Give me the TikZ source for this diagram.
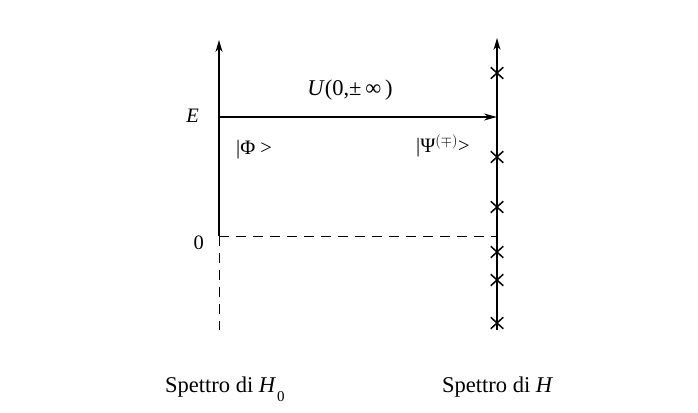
\documentclass[tikz,border=0pt]{standalone}
\usepackage{fontspec}
\setmainfont{Liberation Serif}
\usetikzlibrary{arrows.meta,shapes.misc}
\begin{document}
\begin{tikzpicture}[x=1pt,y=-1pt,
  axis/.style={line width=1.6pt},
  dashline/.style={line width=1pt,dash pattern=on 10pt off 7pt},
  lbl/.style={font=\fontsize{20.5}{24}\selectfont,inner sep=0pt},
  biglbl/.style={font=\fontsize{22.5}{26}\selectfont,inner sep=0pt},
  xmark/.style={cross out,draw,line width=1.5pt,minimum width=11pt,minimum height=10pt,inner sep=0pt}]
\fill[white] (0,0) rectangle (698,412);
\useasboundingbox (0,0) rectangle (698,412);
% left axis
\coordinate (Lt) at (219,40);
\coordinate (LE) at (219,117);
\coordinate (L0) at (219,236);
\coordinate (Lb) at (219,330);
% right axis
\coordinate (Rt) at (497,38);
\coordinate (RE) at (497,117);
\coordinate (R0) at (497,236);
\coordinate (Rb) at (497,330);
\draw[axis,-{Stealth[length=12pt,width=7pt]}] (L0) -- (Lt);
\draw[dashline] (L0) -- (Lb);
\draw[line width=1.2pt,-{Stealth[length=12pt,width=7pt]}] (Rb) -- (Rt);
\draw[line width=1.4pt,-{Stealth[length=13pt,width=7pt]}] (LE) -- (RE);
\draw[dashline] (L0) -- (R0);
% crosses
\foreach \y [count=\i] in {73,157,207,252,280,323}
  \node[xmark] (x\i) at (497,\y) {};
% labels
\node[lbl,anchor=east] (E) at (199,116) {\textit{E}};
\node[lbl,anchor=east] (zero) at (204,243) {0};
\node[biglbl] (U) at (350,90) {\textit{U}(0,±\,∞\,)};
\node[lbl,anchor=west] (phi) at (236,150) {|Φ >};
\node[lbl,anchor=west] (psi) at (416,146) {|Ψ$^{(\mp)}$>};
\node[biglbl,anchor=base west] (s0) at (165,392) {Spettro di \textit{H}\kern1pt\raisebox{-9pt}{\fontsize{15}{17}\selectfont 0}};
\node[biglbl,anchor=base west] (s1) at (442,392) {Spettro di \textit{H}};
\end{tikzpicture}
\end{document}
